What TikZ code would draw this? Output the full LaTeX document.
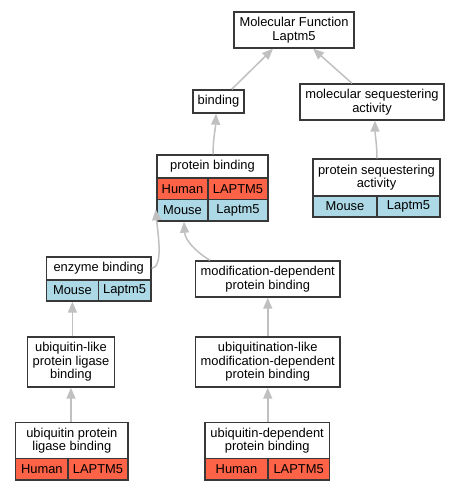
\documentclass[tikz,border=0pt]{standalone}
\usepackage{fontspec}
\setmainfont{Liberation Sans}
\usetikzlibrary{arrows.meta}
\definecolor{human}{HTML}{FF6347}
\definecolor{mouse}{HTML}{ADD8E6}
\definecolor{bord}{HTML}{383838}
\definecolor{edgegray}{HTML}{C0C0C0}
\newcommand{\lab}{\fontsize{12.9}{13.4}\selectfont}
\tikzset{
  box/.style={draw=bord, line width=1.4pt, fill=white, inner sep=0pt, align=center, font=\lab},
  hum/.style={box, fill=human},
  mou/.style={box, fill=mouse},
  edge/.style={draw=edgegray, line width=1.5pt, -{Triangle[length=11pt,width=9pt]}},
}
\begin{document}
\begin{tikzpicture}[x=1pt,y=-1pt]
\useasboundingbox (0,0) rectangle (460,491);
% nodes
\node[box, minimum width=120, minimum height=36] (mf) at (294,30) {Molecular Function\\Laptm5};
\node[box, minimum width=51, minimum height=23] (bind) at (218.5,101.5) {binding};
\node[box, minimum width=144, minimum height=36] (msa) at (372,102) {molecular sequestering\\activity};
% protein binding
\node[box, minimum width=111, minimum height=23] (pb) at (212.5,166.5) {protein binding};
\node[hum, minimum width=51, minimum height=21.5] (pbh1) at (182.5,188.75) {Human};
\node[hum, minimum width=60, minimum height=21.5] (pbh2) at (238,188.75) {LAPTM5};
\node[mou, minimum width=51, minimum height=21.5] (pbm1) at (182.5,210.25) {Mouse};
\node[mou, minimum width=60, minimum height=21.5] (pbm2) at (238,210.25) {Laptm5};
% protein sequestering activity
\node[box, minimum width=127, minimum height=37] (psa) at (376.5,177.5) {protein sequestering\\activity};
\node[mou, minimum width=64, minimum height=21] (psam1) at (345,206.5) {Mouse};
\node[mou, minimum width=63, minimum height=21] (psam2) at (408.5,206.5) {Laptm5};
% enzyme binding
\node[box, minimum width=104.5, minimum height=23] (eb) at (98.75,268.5) {enzyme binding};
\node[mou, minimum width=51.8, minimum height=21] (ebm1) at (72.4,290.5) {Mouse};
\node[mou, minimum width=52.7, minimum height=21] (ebm2) at (124.65,290.5) {Laptm5};
% modification-dependent
\node[box, minimum width=144.5, minimum height=36] (mdpb) at (267.75,279) {modification-dependent\\protein binding};
\node[box, minimum width=87, minimum height=50] (ulplb) at (71,362) {ubiquitin-like\\protein ligase\\binding};
\node[box, minimum width=144.5, minimum height=50] (ulmd) at (267.75,362) {ubiquitination-like\\modification-dependent\\protein binding};
% ubiquitin protein ligase binding
\node[box, minimum width=112.3, minimum height=36.4] (uplb) at (71.85,440.5) {ubiquitin protein\\ligase binding};
\node[hum, minimum width=52.3, minimum height=21.3] (uplbh1) at (41.85,469.35) {Human};
\node[hum, minimum width=60, minimum height=21.3] (uplbh2) at (98,469.35) {LAPTM5};
% ubiquitin-dependent protein binding
\node[box, minimum width=124.3, minimum height=36.4] (udpb) at (267.15,440.5) {ubiquitin-dependent\\protein binding};
\node[hum, minimum width=63, minimum height=21.3] (udpbh1) at (236.5,469.35) {Human};
\node[hum, minimum width=61.3, minimum height=21.3] (udpbh2) at (298.65,469.35) {LAPTM5};
% connectors
\draw[edge] ([xshift=13.2]bind.north) -- ([xshift=-21]mf.south);
\draw[edge] ([xshift=-20]msa.north) -- ([xshift=19]mf.south);
\draw[edge] ([xshift=0.5]pb.north) .. controls +(0,-15) and +(-0.5,15) .. ([xshift=-2.5]bind.south);
\draw[edge] ([xshift=0.5]psa.north) .. controls +(0,-12) and +(0,12) .. ([xshift=3]msa.south);
\draw[edge] (ebm2.east |- eb.east) .. controls +(12,-2) and +(2,25) .. ([xshift=-0.5,yshift=1]pbm1.west);
\draw[edge] ([xshift=-57.75]mdpb.north) .. controls +(-15,-9) and +(1,18) .. ([xshift=1.5]pbm1.south);
\draw[edge] (ebm1.south |- ulplb.north) -- (ebm1.south);
\draw[edge] (uplb.north -| ulplb.south) -- (ulplb.south);
\draw[edge] (ulmd.north) -- (mdpb.south);
\draw[edge] (udpb.north -| ulmd.south) -- (ulmd.south);
\end{tikzpicture}
\end{document}
